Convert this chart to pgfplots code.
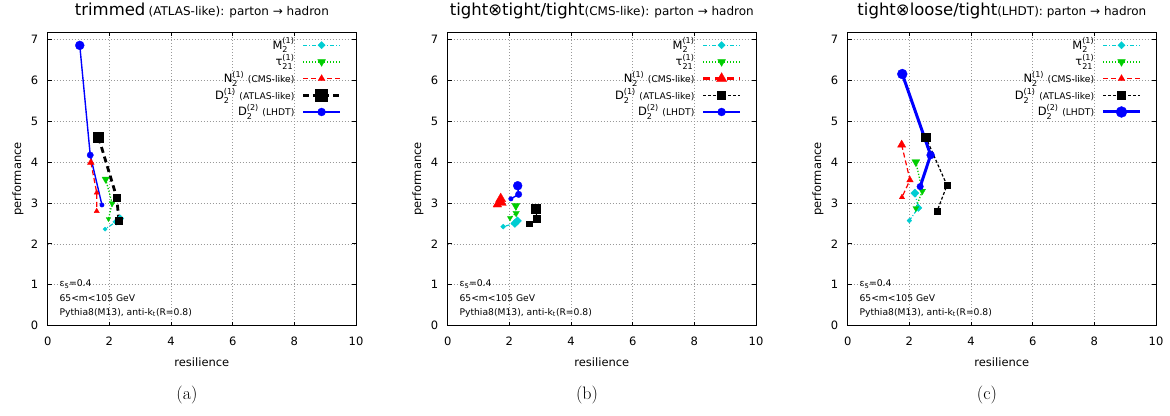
\documentclass[border=0pt]{standalone}
\usepackage{fontspec}
\usepackage{amsmath}
\usepackage{pgfplots}
\pgfplotsset{compat=1.18}
\newfontfamily\dv{DejaVu Sans}
\definecolor{cM}{RGB}{0,205,210}
\definecolor{cT}{RGB}{0,205,0}
\newcommand{\sm}{\fontsize{9.2}{9.2}\selectfont}
\newcommand{\Mt}{M$_{\text{2}}^{\text{(1)}}$}
\newcommand{\Tt}{τ$_{\text{21}}^{\text{(1)}}$}
\newcommand{\Nt}{N$_{\text{2}}^{\text{(1)}}$ {\sm (CMS-like)}}
\newcommand{\Da}{D$_{\text{2}}^{\text{(1)}}$ {\sm (ATLAS-like)}}
\newcommand{\Db}{D$_{\text{2}}^{\text{(2)}}$ {\sm (LHDT)}}
\newcommand{\ann}{%
  \node[anchor=base west, font=\fontsize{9.2}{9.2}\selectfont] at (axis cs:0.27,0.95) {ε$_{\text{S}}$=0.4};
  \node[anchor=base west, font=\fontsize{9.2}{9.2}\selectfont] at (axis cs:0.27,0.60) {65<m<105 GeV};
  \node[anchor=base west, font=\fontsize{9.2}{9.2}\selectfont] at (axis cs:0.27,0.26) {Pythia8(M13), anti-k$_{\text{t}}$(R=0.8)};}
\pgfplotsset{
  legend image code/.code={\draw[mark repeat=2,mark phase=2,#1] plot coordinates {(0pt,0pt) (18.5pt,0pt) (37pt,0pt)};},
  vm/.style={scatter, scatter/use mapped color={draw=#1,fill=#1},
    visualization depends on={\thisrow{s}\as\ms},
    scatter/@pre marker code/.append style={/tikz/mark size=\ms}, forget plot},
  sM/.style={cM, line width=1.2pt, dash pattern=on 4pt off 2pt on 1pt off 2pt, mark=square*, mark options={solid, rotate=45, line width=0.3pt}},
  sT/.style={cT, line width=1.3pt, dash pattern=on 1.3pt off 1.7pt, mark=triangle*, mark options={solid, rotate=180, line width=0.3pt}},
  sN/.style={red, line width=1.2pt, dash pattern=on 5pt off 3pt, mark=triangle*, mark options={solid, line width=0.3pt}},
  sNt/.style={red, line width=2.8pt, dash pattern=on 7pt off 5pt, mark=triangle*, mark options={solid, line width=0.3pt}},
  sD/.style={black, line width=1.2pt, dash pattern=on 3pt off 2pt, mark=square*, mark options={solid, line width=0.3pt}},
  sDt/.style={black, line width=2.8pt, dash pattern=on 6pt off 4pt, mark=square*, mark options={solid, line width=0.3pt}},
  sB/.style={blue, line width=1.4pt, solid, mark=*, mark options={solid, line width=0.3pt}},
  sBt/.style={blue, line width=3pt, solid, mark=*, mark options={solid, line width=0.3pt}},
  panel/.style={
    scale only axis, width=308.3pt, height=293.4pt,
    xmin=0, xmax=10, ymin=0, ymax=7.17,
    xtick={0,2,4,6,8,10}, ytick={0,1,2,3,4,5,6,7},
    tick align=inside, major tick length=4pt,
    axis line style={line width=0.8pt},
    every tick/.style={black, line width=0.8pt},
    grid=major, grid style={draw=gray!80, dash pattern=on 0.7pt off 2.3pt, line width=0.7pt},
    /pgf/number format/assume math mode=true,
    ticklabel style={font=\fontsize{11.5}{12}\selectfont},
    xticklabel style={anchor=base, yshift=-19.5pt},
    yticklabel style={anchor=east, xshift=-6pt},
    xlabel={resilience}, ylabel={performance},
    label style={font=\fontsize{11.5}{12}\selectfont},
    xlabel style={at={(axis description cs:0.5,-0.1374)}, anchor=base},
    ylabel style={at={(axis description cs:-0.0963,0.5)}, anchor=center},
    title style={at={(axis description cs:0.5,1.0556)}, anchor=base, yshift=-6pt},
    legend plot pos=right, legend cell align=right,
    legend style={draw=none, fill=none, inner sep=0pt, at={(axis description cs:1,1)}, anchor=north east,
      xshift=-14.3pt, yshift=-5.7pt, font=\fontsize{11.5}{12}\selectfont, row sep=2.7pt, column sep=7.3pt,
      nodes={inner sep=0pt, text height=11pt, text depth=3pt}},
  }
}
\begin{document}
\dv
\begin{tikzpicture}
\useasboundingbox (0,0) rectangle (1170pt,415pt);
% ---------------- (a)
\begin{axis}[panel, name=A, at={(47.7pt,89.3pt)}, anchor=south west,
  title={{\fontsize{16.5}{17}\selectfont trimmed} {\fontsize{12}{12}\selectfont (ATLAS-like): parton → hadron}}]
\addplot[sM, vm=cM] table[row sep=\\] {x y s\\ 2.35 2.62 2.6\\ 2.22 2.54 2.4\\ 1.86 2.36 1.5\\};
\addplot[sT, vm=cT] table[row sep=\\] {x y s\\ 1.88 3.58 4.2\\ 2.09 2.99 3.5\\ 1.97 2.61 2.7\\};
\addplot[sN, vm=red] table[row sep=\\] {x y s\\ 1.40 3.99 3.9\\ 1.59 3.25 3.0\\ 1.59 2.80 3.0\\};
\addplot[sDt, vm=black] table[row sep=\\] {x y s\\ 1.65 4.60 5.0\\ 2.24 3.13 3.7\\ 2.31 2.56 3.7\\};
\addplot[sB, vm=blue] table[row sep=\\] {x y s\\ 1.04 6.85 4.5\\ 1.38 4.17 3.2\\ 1.76 2.95 2.2\\};
\addlegendimage{sM, mark size=2.6pt}\addlegendentry{\Mt}
\addlegendimage{sT, mark size=4.5pt}\addlegendentry{\Tt}
\addlegendimage{sN, mark size=4pt}\addlegendentry{\Nt}
\addlegendimage{sDt, mark size=6pt}\addlegendentry{\Da}
\addlegendimage{sB, mark size=4pt}\addlegendentry{\Db}
\ann
\end{axis}
% ---------------- (b)
\begin{axis}[panel, name=B, at={(447.7pt,89.3pt)}, anchor=south west,
  title={{\fontsize{16.5}{17}\selectfont tight⊗tight/tight}{\fontsize{12}{12}\selectfont (CMS-like): parton → hadron}}]
\addplot[sM, vm=cM] table[row sep=\\] {x y s\\ 2.26 2.56 2.9\\ 2.18 2.50 2.9\\ 1.80 2.42 1.8\\};
\addplot[sT, vm=cT] table[row sep=\\] {x y s\\ 2.21 2.93 4.6\\ 2.22 2.75 3.8\\ 2.02 2.63 2.9\\};
\addplot[sNt, vm=red] table[row sep=\\] {x y s\\ 1.72 3.10 5.8\\ 1.61 2.96 5.0\\ 1.76 3.00 5.0\\};
\addplot[sD, vm=black] table[row sep=\\] {x y s\\ 2.86 2.85 4.5\\ 2.89 2.61 3.3\\ 2.64 2.49 2.7\\};
\addplot[sB, vm=blue] table[row sep=\\] {x y s\\ 2.27 3.42 4.5\\ 2.30 3.21 3.3\\ 2.05 3.10 2.3\\};
\addlegendimage{sM, mark size=2.6pt}\addlegendentry{\Mt}
\addlegendimage{sT, mark size=4.5pt}\addlegendentry{\Tt}
\addlegendimage{sNt, mark size=6pt}\addlegendentry{\Nt}
\addlegendimage{sD, mark size=4pt}\addlegendentry{\Da}
\addlegendimage{sB, mark size=4pt}\addlegendentry{\Db}
\ann
\end{axis}
% ---------------- (c)
\begin{axis}[panel, name=C, at={(847.7pt,89.3pt)}, anchor=south west,
  title={{\fontsize{16.5}{17}\selectfont tight⊗loose/tight}{\fontsize{12}{12}\selectfont (LHDT): parton → hadron}}]
\addplot[sM, vm=cM] table[row sep=\\] {x y s\\ 2.18 3.24 2.9\\ 2.29 2.88 2.6\\ 2.00 2.57 1.7\\};
\addplot[sT, vm=cT] table[row sep=\\] {x y s\\ 2.21 4.00 4.6\\ 2.42 3.29 3.8\\ 2.21 2.87 3.4\\};
\addplot[sN, vm=red] table[row sep=\\] {x y s\\ 1.75 4.42 4.8\\ 2.02 3.56 3.8\\ 1.76 3.14 3.1\\};
\addplot[sD, vm=black] table[row sep=\\] {x y s\\ 2.53 4.61 4.2\\ 3.22 3.43 3.3\\ 2.90 2.80 2.7\\};
\addplot[sBt, vm=blue] table[row sep=\\] {x y s\\ 1.77 6.15 5.0\\ 2.69 4.17 4.0\\ 2.35 3.40 3.3\\};
\addlegendimage{sM, mark size=2.6pt}\addlegendentry{\Mt}
\addlegendimage{sT, mark size=4.5pt}\addlegendentry{\Tt}
\addlegendimage{sN, mark size=4pt}\addlegendentry{\Nt}
\addlegendimage{sD, mark size=4pt}\addlegendentry{\Da}
\addlegendimage{sBt, mark size=5.5pt}\addlegendentry{\Db}
\ann
\end{axis}
\node[anchor=base] at ([xshift=139.3pt,yshift=-74pt]A.south west) {\rmfamily\fontsize{18}{18}\selectfont (a)};
\node[anchor=base] at ([xshift=139.3pt,yshift=-74pt]B.south west) {\rmfamily\fontsize{18}{18}\selectfont (b)};
\node[anchor=base] at ([xshift=139.3pt,yshift=-74pt]C.south west) {\rmfamily\fontsize{18}{18}\selectfont (c)};
\end{tikzpicture}
\end{document}
